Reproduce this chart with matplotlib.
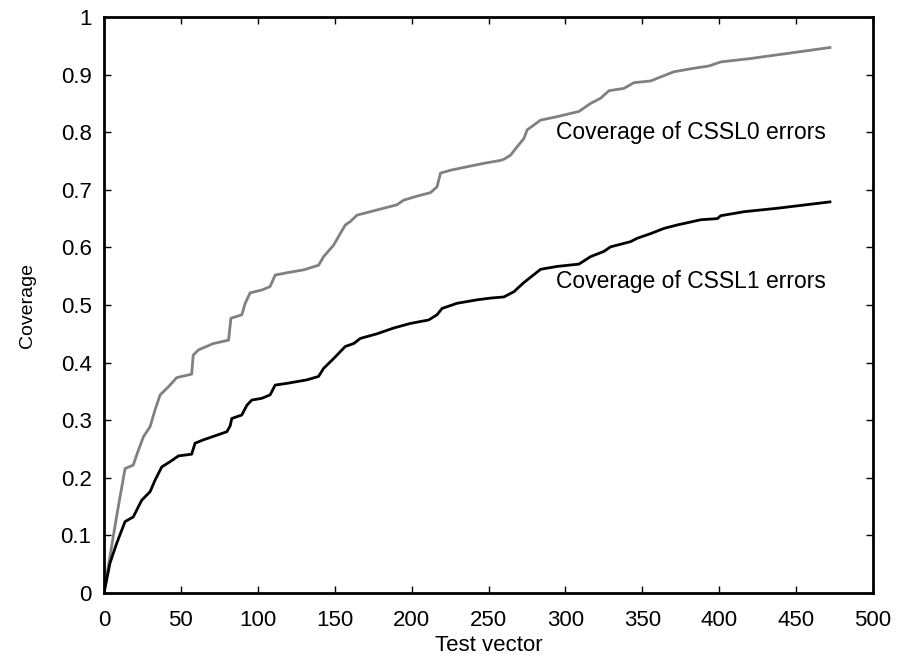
import matplotlib
matplotlib.use("Agg")
import matplotlib.pyplot as plt

# coverage curves (test vector index, coverage)
cssl0_x = [0, 6, 9.3, 13.7, 19, 21.3, 25.6, 30, 33.2, 36.5, 41.9, 47.3, 57, 58,
           61.4, 71, 81, 82.5, 89.6, 91.8, 95, 102.6, 108, 111.3, 119, 129.8,
           139.5, 142.8, 149.3, 153.6, 156.9, 160.2, 164.5, 173.2, 181.8,
           190.5, 194.8, 203.5, 212.2, 216.5, 218.8, 225.3, 236.1, 247,
           257.8, 260, 264.3, 268.7, 273, 275.1, 283.9, 294.7, 308.8, 316.4,
           322.9, 328.3, 338, 344.6, 355.5, 362, 370.6, 383.6, 393.4, 401,
           420.6, 442.3, 472]
cssl0_y = [0, 0.098, 0.15, 0.216, 0.222, 0.24, 0.271, 0.289, 0.318, 0.344,
           0.358, 0.374, 0.38, 0.413, 0.422, 0.433, 0.439, 0.477, 0.483,
           0.503, 0.521, 0.526, 0.532, 0.552, 0.556, 0.561, 0.569, 0.584,
           0.604, 0.624, 0.639, 0.645, 0.656, 0.662, 0.668, 0.674, 0.682,
           0.689, 0.695, 0.705, 0.729, 0.734, 0.740, 0.746, 0.751, 0.753,
           0.760, 0.775, 0.789, 0.804, 0.821, 0.827, 0.836, 0.85, 0.859,
           0.872, 0.876, 0.886, 0.889, 0.896, 0.905, 0.911, 0.915, 0.922,
           0.928, 0.936, 0.947]

cssl1_x = [0, 3.9, 8.2, 13.7, 19, 24.5, 30, 33.2, 37.6, 43, 48.4, 57, 59.2,
           64.7, 72.3, 79.9, 82, 83.1, 89.6, 92.9, 96.1, 102.6, 108, 111.3,
           119, 131.9, 139.5, 142.8, 149.3, 156.9, 162.3, 166.7, 177.5,
           188.3, 199.2, 211.1, 216.5, 219.8, 229.6, 242.6, 251.3, 260,
           266.5, 273, 283.9, 294.7, 308.8, 316.4, 325, 329.4, 342.4, 346.8,
           355.5, 364.1, 372.8, 388, 398.8, 401, 416.2, 437.9, 472]
cssl1_y = [0, 0.052, 0.086, 0.124, 0.132, 0.161, 0.176, 0.196, 0.219, 0.228,
           0.238, 0.241, 0.26, 0.266, 0.273, 0.28, 0.29, 0.303, 0.309, 0.326,
           0.335, 0.338, 0.344, 0.361, 0.364, 0.37, 0.376, 0.39, 0.407,
           0.428, 0.433, 0.442, 0.45, 0.46, 0.468, 0.474, 0.483, 0.494,
           0.503, 0.509, 0.512, 0.514, 0.523, 0.539, 0.562, 0.567, 0.571,
           0.584, 0.593, 0.601, 0.61, 0.616, 0.624, 0.633, 0.639, 0.648,
           0.65, 0.655, 0.662, 0.668, 0.679]

x_ticks = [0, 50, 100, 150, 200, 250, 300, 350, 400, 450, 500]
y_ticks = [0, 0.1, 0.2, 0.3, 0.4, 0.5, 0.6, 0.7, 0.8, 0.9, 1]
y_ticklabels = ["0", "0.1", "0.2", "0.3", "0.4", "0.5", "0.6", "0.7", "0.8",
                "0.9", "1"]

plt.rcParams["font.family"] = ["Liberation Sans", "DejaVu Sans"]

fig = plt.figure(figsize=(8.97, 6.61), dpi=100)
ax = fig.add_axes([104 / 897, 68 / 661, 769 / 897, 576 / 661])

ax.plot(cssl0_x, cssl0_y, color="#808080", lw=2.0, solid_joinstyle="round")
ax.plot(cssl1_x, cssl1_y, color="black", lw=2.0, solid_joinstyle="round")

ax.text(294, 0.80, "Coverage of CSSL0 errors", fontsize=16.5, va="center",
        ha="left")
ax.text(294, 0.54, "Coverage of CSSL1 errors", fontsize=16.5, va="center",
        ha="left")

ax.set_xlim(0, 500)
ax.set_ylim(0, 1)
ax.set_xticks(x_ticks)
ax.set_yticks(y_ticks)
ax.set_yticklabels(y_ticklabels)
ax.tick_params(direction="in", top=True, right=True, length=5, width=1,
               labelsize=16)
ax.tick_params(axis="x", pad=12)
ax.tick_params(axis="y", pad=9)
for s in ax.spines.values():
    s.set_linewidth(2.0)

ax.set_xlabel("Test vector", fontsize=16, labelpad=3)
ax.set_ylabel("Coverage", fontsize=14, labelpad=18)

fig.savefig("out.png", dpi=100)
